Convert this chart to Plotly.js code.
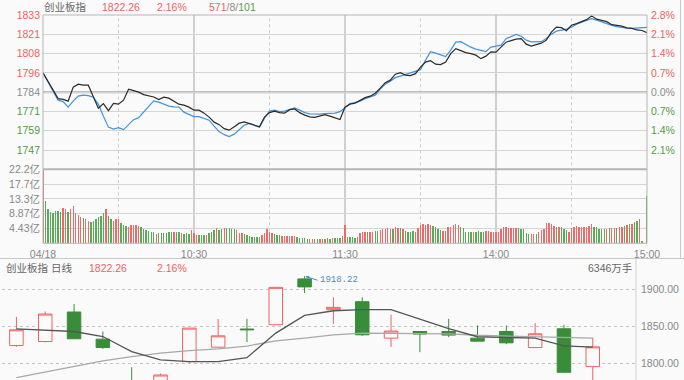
<!DOCTYPE html>
<html><head><meta charset="utf-8">
<script src="https://cdn.plot.ly/plotly-3.0.1.min.js"></script>
<style>html,body{margin:0;padding:0;background:#fafafa}#c{width:684px;height:380px}</style>
</head><body><div id="c"></div>
<script>
// ---- intraday data (2-minute samples of price & average, per-minute volume) ----
const PREV_CLOSE = 1783.7;
const timeLabels = ['04/18','10:30','11:30','14:00','15:00'];
const timeTicks = [0,60,120,180,240];
const priceLabels = ['1747','1759','1771','1784','1796','1808','1821','1833'];
const pctLabels = ['2.1%','1.4%','0.7%','0.0%','0.7%','1.4%','2.1%','2.8%'];
const volTickLabels = ['4.43亿','8.87亿','13.3亿','17.7亿','22.2亿'];
const volTickValues = [4.44,8.88,13.32,17.76,22.2];

const price = [
1796.19,1790.82,1784.99,1779.49,1778.98,1777.88,1786.94,1788.88,1788.23,1788.23,
1780.66,1773.34,1776.26,1771.73,1776.39,1775.93,1778.52,1785.64,1784.67,1783.70,
1782.08,1781.43,1780.59,1778.85,1780.46,1779.82,1777.88,1775.93,1775.29,1773.99,
1772.05,1772.05,1770.11,1767.52,1764.28,1762.67,1760.08,1759.11,1761.37,1763.64,
1764.48,1763.31,1762.02,1761.24,1767.52,1770.43,1771.40,1770.43,1770.11,1772.37,
1772.83,1770.43,1768.81,1767.71,1767.33,1768.49,1769.14,1768.17,1767.20,1766.03,
1773.99,1775.93,1776.58,1778.52,1780.14,1781.11,1783.05,1786.29,1789.85,1791.47,
1795.35,1796.32,1794.70,1794.38,1795.67,1799.88,1803.12,1804.09,1801.82,1801.50,
1803.12,1808.62,1811.85,1810.56,1809.26,1808.62,1807.65,1805.38,1807.00,1809.78,
1809.59,1812.82,1816.06,1817.03,1818.00,1818.33,1814.77,1813.47,1814.44,1815.41,
1817.35,1822.53,1825.77,1825.44,1823.50,1827.06,1828.03,1829.33,1830.62,1833.08,
1830.95,1830.17,1829.33,1827.39,1826.93,1826.42,1825.31,1824.99,1823.96,1823.63,
1822.26];
const avgPrice = [
1796.19,1790.17,1783.70,1778.52,1777.55,1773.99,1777.88,1781.11,1781.76,1781.43,
1780.46,1775.93,1768.17,1761.05,1759.75,1760.72,1759.43,1762.67,1765.90,1767.20,
1770.76,1774.64,1778.00,1777.23,1775.93,1774.64,1774.19,1773.99,1770.76,1769.46,
1767.84,1767.84,1766.87,1765.58,1761.70,1758.14,1756.19,1754.90,1756.52,1759.75,
1762.34,1763.44,1762.02,1761.05,1766.87,1771.40,1772.05,1771.08,1771.40,1772.37,
1773.47,1772.05,1770.43,1769.66,1769.46,1769.46,1769.79,1769.98,1770.11,1771.08,
1773.99,1776.26,1776.90,1777.88,1779.49,1780.46,1781.76,1785.64,1788.88,1790.82,
1793.08,1794.06,1795.03,1796.00,1796.97,1798.26,1804.41,1809.91,1808.94,1807.65,
1806.68,1810.88,1816.06,1816.38,1814.44,1812.82,1811.53,1810.56,1809.91,1812.82,
1813.47,1814.12,1818.33,1819.94,1821.04,1819.94,1817.35,1816.25,1816.25,1816.38,
1818.45,1821.24,1823.18,1823.83,1824.47,1825.77,1827.71,1829.00,1830.30,1831.27,
1830.30,1829.00,1828.03,1826.93,1826.09,1825.44,1825.12,1824.93,1825.12,1825.57,
1825.57];
const SAMPLE_STEP = 2;

// volume in 亿, one per minute; volUp 1 = red (up), 0 = green (down)
const volume = [
22.1,12.6,10.4,9.4,9.2,9.6,9.6,9.4,10.6,10.2,
9.3,10.4,11.1,9.0,8.4,8.0,7.5,7.2,6.8,6.4,
6.8,7.3,7.9,8.3,9.0,10.4,8.3,7.4,6.8,7.2,
7.2,6.2,5.5,5.2,5.0,5.6,5.6,5.4,5.1,5.0,
4.4,4.0,3.6,3.4,3.4,2.9,3.2,3.0,3.0,3.2,
3.3,3.3,3.4,3.3,3.4,3.2,2.9,3.0,2.8,4.0,
3.2,2.5,2.4,2.4,2.5,2.6,3.0,3.4,3.9,4.6,
4.0,4.3,4.5,4.6,4.6,4.3,4.4,4.0,3.2,3.0,
2.8,2.5,2.2,2.0,1.9,1.8,1.9,2.6,3.2,4.2,
3.4,3.2,2.7,2.5,2.4,2.2,2.2,2.2,2.3,2.2,
2.1,1.8,1.6,1.6,1.5,1.4,1.3,1.3,1.3,1.3,
1.4,1.4,1.4,1.5,1.4,1.6,1.6,1.6,1.7,2.2,
5.5,1.8,1.8,1.8,1.6,2.0,3.0,3.4,3.5,3.4,
3.3,3.5,3.6,3.6,4.0,4.4,4.3,4.5,4.4,4.4,
4.8,4.7,4.6,4.4,3.6,3.5,3.5,3.6,3.5,4.5,
5.6,5.8,5.5,5.8,5.6,5.3,5.0,4.4,4.0,3.6,
3.6,5.0,5.0,5.5,5.7,5.4,4.8,4.6,3.4,3.3,
3.3,3.3,3.3,3.6,3.4,3.3,3.6,3.6,3.5,3.4,
3.3,3.3,4.4,4.9,4.8,4.6,4.6,4.6,4.6,4.6,
4.4,4.2,3.0,2.8,2.8,2.8,2.9,3.4,4.0,4.4,
6.0,6.2,5.8,5.3,5.0,5.0,4.8,4.4,4.0,3.4,
4.6,5.0,5.2,5.0,5.0,4.8,5.0,5.2,5.9,5.0,
4.8,4.4,4.4,4.4,4.4,4.5,4.6,4.6,4.7,4.8,
5.0,5.2,5.4,5.7,5.9,6.5,6.6,7.3,0.7,0,
14.3];
const volUp = [
1,0,0,0,0,0,0,0,1,1, 0,1,1,1,1,1,0,1,1,0, 0,0,0,0,0,1,0,0,1,1,
1,0,0,0,1,1,1,1,1,0, 0,0,0,0,0,1,0,0,0,0, 0,0,1,0,0,1,0,0,0,1,
1,1,0,0,0,1,0,0,0,1, 0,0,1,0,0,0,0,1,1,1, 0,0,0,0,0,0,0,1,1,1,
1,1,0,0,0,1,1,1,1,1, 1,0,0,0,0,0,1,1,0,0, 1,0,1,0,0,1,0,0,0,1,
1,0,0,0,0,1,1,1,1,0, 1,1,0,0,1,1,1,1,1,0, 1,1,0,1,0,0,0,0,1,1,
1,1,1,1,1,0,0,0,0,1, 1,1,1,1,1,1,0,0,0,0, 0,1,0,0,0,0,1,1,1,1,
1,1,1,1,1,1,1,1,1,0, 0,0,0,0,1,1,0,1,1,1, 1,1,1,1,0,1,0,0,0,1,
1,1,1,1,1,1,1,1,1,0, 0,0,0,0,1,0,1,1,0,1, 1,0,1,0,1,0,0,1,0,0,
0];

// ---- daily candles ----
const dOpen  = [1824.0,1829.5,1869.6,1832.7,1774.0,1752.0,1802.2,1821.8,1846.5,1852.3,1914.6,1872.7,1883.6,1834.1,1843.1,1843.1,1834.1,1843.1,1821.3,1846.8,1795.4];
const dHigh  = [1862.8,1870.4,1880.5,1843.1,1794.5,1786.0,1848.0,1860.0,1860.4,1903.5,1918.22,1889.5,1889.5,1865.9,1843.5,1860.4,1851.3,1851.3,1854.6,1852.3,1834.9];
const dLow   = [1822.2,1828.1,1833.2,1819.5,1742.0,1748.0,1800.0,1821.0,1828.7,1852.0,1895.5,1853.6,1837.2,1822.2,1815.0,1835.5,1830.0,1825.9,1820.5,1787.0,1770.0];
const dClose = [1845.4,1866.8,1833.2,1821.3,1746.3,1784.0,1847.7,1837.2,1845.5,1903.1,1903.7,1875.9,1838.6,1843.7,1839.6,1838.2,1830.0,1827.7,1840.0,1787.7,1822.26];
const maShort = [1846.8,1845.4,1843.1,1836.3,1815.8,1804.5,1802.2,1802.2,1807.6,1840.9,1865.0,1871.3,1872.7,1872.7,1860.0,1847.0,1836.0,1835.5,1834.0,1823.6,1821.8];
const maLong  = [1780.4,1787.8,1795.5,1803.3,1808.9,1813.6,1817.0,1819.5,1823.3,1830.5,1834.2,1838.4,1841.0,1841.0,1841.0,1840.0,1838.0,1837.0,1836.5,1836.0,1834.0];
const dayTicks = [1800,1850,1900];
const dayTickLabels = ['1800.00','1850.00','1900.00'];

// ---- styling ----
const W=684,H=380;
const X=p=>p/W, Y=p=>1-p/H;
const RED='#f06262', GREEN='#4f9e42', GRAY='#8a8a8a', BG='#fafafa';
const FONT='"Liberation Sans", Arial, "Noto Sans CJK SC", sans-serif';
const pMin=PREV_CLOSE*(1-0.028), pMax=PREV_CLOSE*(1+0.028);
const pTicks=[-3,-2,-1,0,1,2,3,4].map(k=>PREV_CLOSE*(1+0.007*k));
const colorFor=k=>k>0?RED:(k<0?GREEN:GRAY);
const col=(t,c)=>'<span style="color:'+c+'">'+t+'</span>';
const priceText=priceLabels.map((t,i)=>col(t,colorFor(i-3)));
const pctText=pctLabels.map((t,i)=>col(t,colorFor(i-3)));

const tx=price.map((_,i)=>i*SAMPLE_STEP);
const vx=volume.map((_,i)=>i);
const dx=dOpen.map((_,i)=>i);

const traces=[
 {type:'bar',x:vx,y:volume,xaxis:'x',yaxis:'y2',width:0.55,
  marker:{color:volUp.map(u=>u?'#ec6a6a':'#5aab57'),line:{width:0}},hoverinfo:'skip'},
 {type:'scatter',mode:'lines',x:tx,y:avgPrice,xaxis:'x',yaxis:'y',line:{color:'#3d95e2',width:1.2},hoverinfo:'skip'},
 {type:'scatter',mode:'lines',x:tx,y:price,xaxis:'x',yaxis:'y',line:{color:'#2b2b2b',width:1.2},hoverinfo:'skip'},
 {type:'scatter',mode:'markers',x:[0],y:[PREV_CLOSE],xaxis:'x',yaxis:'y3',marker:{opacity:0},hoverinfo:'skip'},
 {type:'candlestick',x:dx,open:dOpen,high:dHigh,low:dLow,close:dClose,xaxis:'x2',yaxis:'y4',
  whiskerwidth:0,hoverinfo:'skip',
  increasing:{line:{color:'#f06262',width:1},fillcolor:BG},
  decreasing:{line:{color:'#3a8d38',width:1},fillcolor:'#3a8d38'}},
 {type:'scatter',mode:'lines',x:dx,y:maLong,xaxis:'x2',yaxis:'y4',line:{color:'#a8a8a8',width:1.3},hoverinfo:'skip'},
 {type:'scatter',mode:'lines',x:dx,y:maShort,xaxis:'x2',yaxis:'y4',line:{color:'#555555',width:1.3},hoverinfo:'skip'}
];

const shapes=[];
[60,120,180].forEach(m=>shapes.push({type:'line',xref:'x',yref:'paper',x0:m,x1:m,y0:Y(243.3),y1:Y(15),line:{color:'#c2c2c2',width:1.5},layer:'below'}));
[30,90,150,210].forEach(m=>shapes.push({type:'line',xref:'x',yref:'paper',x0:m,x1:m,y0:Y(243.3),y1:Y(15),line:{color:'#cdcdcd',width:1,dash:'dot'},layer:'below'}));
shapes.push({type:'rect',xref:'paper',yref:'paper',x0:X(43),x1:X(647),y0:Y(243.3),y1:Y(15),line:{color:'#b5b5b5',width:1}});
shapes.push({type:'line',xref:'paper',yref:'paper',x0:X(43),x1:X(647),y0:Y(169.3),y1:Y(169.3),line:{color:'#b5b5b5',width:2}});
shapes.push({type:'line',xref:'paper',yref:'y',x0:X(43),x1:X(647),y0:PREV_CLOSE,y1:PREV_CLOSE,line:{color:'#ababab',width:2},layer:'below'});
shapes.push({type:'line',xref:'paper',yref:'paper',x0:0,x1:1,y0:Y(258.5),y1:Y(258.5),line:{color:'#c8c8c8',width:1}});
shapes.push({type:'line',xref:'paper',yref:'paper',x0:X(680.5),x1:X(680.5),y0:Y(258.5),y1:1,line:{color:'#c8c8c8',width:1}});
shapes.push({type:'line',xref:'paper',yref:'paper',x0:X(636),x1:X(636),y0:0,y1:Y(258.5),line:{color:'#cfcfcf',width:1}});

const ann=(px,py,text,color,anchor)=>({xref:'paper',yref:'paper',x:X(px),y:Y(py),text:text,showarrow:false,
  xanchor:anchor||'left',yanchor:'middle',font:{size:10.5,color:color,family:FONT}});
const annotations=[
 ann(42,7,'创业板指','#666'),
 ann(100,7,'1822.26',RED),
 ann(155,7,'2.16%',RED),
 ann(207,7,col('571',RED)+col('/8/',GRAY)+col('101','#58a048'),GRAY),
 ann(4,268,'创业板指 日线','#666'),
 ann(87,268,'1822.26',RED),
 ann(155,268,'2.16%',RED),
 ann(634,268,'6346万手','#666','right'),
 {xref:'x2',yref:'y4',x:10,y:1918.22,text:'1918.22',showarrow:true,ax:13,ay:4,xanchor:'left',yanchor:'middle',
  font:{size:9,color:'#3c8fd8',family:'"Liberation Mono", monospace'},arrowcolor:'#3c8fd8',arrowhead:2,arrowsize:0.7,arrowwidth:1,standoff:1}
];

const layout={
 width:W,height:H,margin:{l:0,r:0,t:0,b:0},paper_bgcolor:BG,plot_bgcolor:'rgba(0,0,0,0)',
 showlegend:false,font:{family:FONT,size:10,color:GRAY},boxgap:0.33,bargap:0,
 xaxis:{domain:[X(43),X(647)],range:[0,240],anchor:'y2',tickvals:timeTicks,ticktext:timeLabels,
   showgrid:false,zeroline:false,showline:false,ticks:'',ticklabelstandoff:3,tickfont:{size:10.5,color:'#888'},fixedrange:true},
 yaxis:{domain:[Y(169.3),Y(15)],range:[pMin,pMax],anchor:'x',tickvals:pTicks,ticktext:priceText,
   showgrid:true,gridcolor:'#d5d5d5',gridwidth:1,zeroline:false,showline:false,ticks:'',tickfont:{size:10.5},ticklabelstandoff:2},
 yaxis3:{overlaying:'y',side:'right',anchor:'x',range:[pMin,pMax],tickvals:pTicks,ticktext:pctText,
   showgrid:false,zeroline:false,showline:false,ticks:'',tickfont:{size:10.5},ticklabelstandoff:3},
 yaxis2:{domain:[Y(243.3),Y(169.3)],range:[0,22.2],anchor:'x',tickvals:volTickValues,ticktext:volTickLabels,
   showgrid:true,gridcolor:'#d5d5d5',zeroline:false,showline:false,ticks:'',tickfont:{size:10.5,color:'#888'},ticklabelstandoff:2},
 xaxis2:{domain:[X(2),X(636)],range:[-0.5,21.5],anchor:'y4',showticklabels:false,showgrid:false,zeroline:false,
   showline:false,ticks:'',rangeslider:{visible:false},type:'linear'},
 yaxis4:{domain:[0,Y(258.5)],range:[1777.2,1942.3],anchor:'x2',side:'right',tickvals:dayTicks,ticktext:dayTickLabels,
   showgrid:true,gridcolor:'#c4c4c4',griddash:'dot',zeroline:false,showline:false,ticks:'',tickfont:{size:10.5,color:'#888'},ticklabelstandoff:4},
 shapes:shapes,annotations:annotations
};
Plotly.newPlot('c',traces,layout,{staticPlot:true,displayModeBar:false});
</script></body></html>
